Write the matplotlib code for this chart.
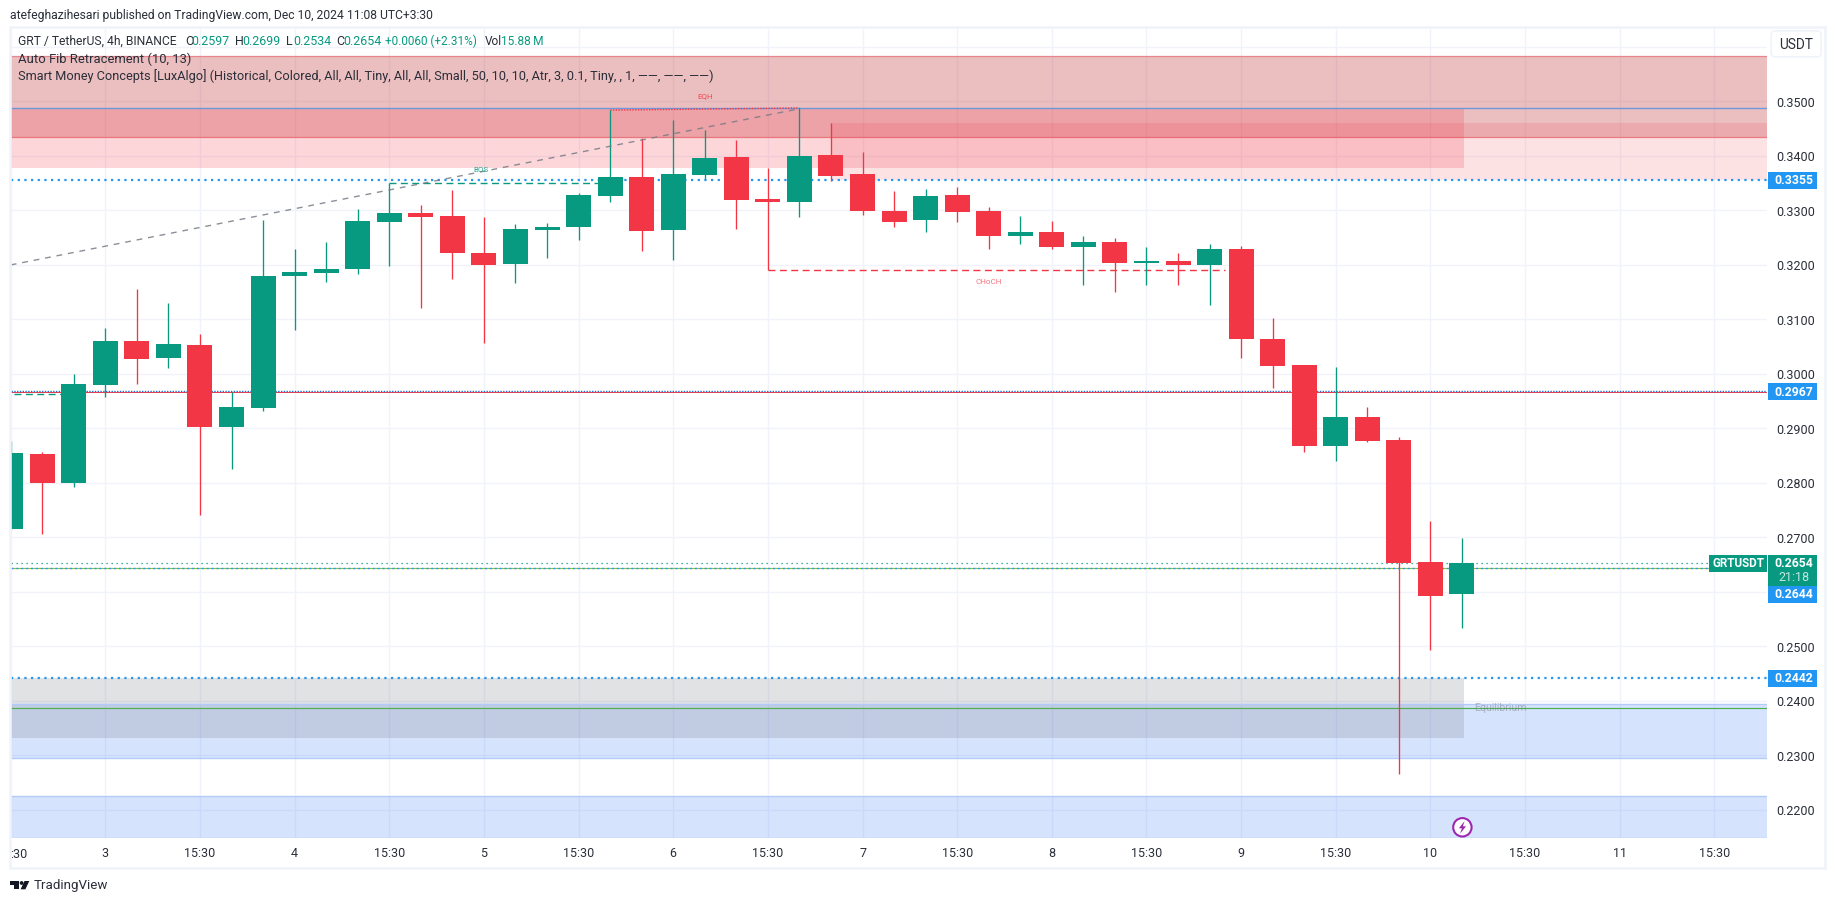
import matplotlib
matplotlib.use('Agg')
import numpy as np
import matplotlib.pyplot as plt
from matplotlib.patches import Rectangle, FancyBboxPatch, Circle, Polygon

plt.rcParams['font.family'] = ['Roboto', 'DejaVu Sans']

# 4h candles, first one is partly cut by the left edge
first_bar = -3
opens = [.2716, .2853, .2800, .2980, .3061, .3029, .3053, .2903, .2938, .3180, .3185, .3193,
         .3279, .3295, .3290, .3222, .3202, .3264, .3270, .3327, .3361, .3264, .3365, .3398,
         .3321, .3316, .3402, .3367, .3299, .3283, .3328, .3299, .3253, .3261, .3233, .3242,
         .3204, .3207, .3200, .3229, .3064, .3017, .2868, .2921, .2879, .2655, .2597]
highs = [.2877, .2857, .3000, .3084, .3156, .3130, .3073, .2967, .3283, .3229, .3242, .3303,
         .3350, .3310, .3338, .3288, .3275, .3277, .3332, .3484, .3433, .3466, .3448, .3429,
         .3378, .3488, .3461, .3407, .3336, .3339, .3343, .3306, .3290, .3281, .3253, .3250,
         .3233, .3222, .3239, .3235, .3103, .3017, .3013, .2939, .2884, .2730, .2699]
lows = [.2716, .2707, .2793, .2958, .2982, .3011, .2741, .2826, .2932, .3081, .3169, .3183,
        .3198, .3121, .3174, .3057, .3167, .3213, .3246, .3316, .3226, .3209, .3358, .3266,
        .3191, .3288, .3354, .3292, .3270, .3261, .3279, .3229, .3239, .3229, .3163, .3150,
        .3163, .3163, .3127, .3029, .2974, .2857, .2840, .2875, .2266, .2494, .2534]
closes = [.2855, .2800, .2982, .3061, .3028, .3055, .2903, .2940, .3180, .3187, .3193, .3281,
          .3295, .3288, .3222, .3200, .3266, .3270, .3328, .3361, .3262, .3367, .3396, .3319,
          .3316, .3400, .3363, .3299, .3279, .3327, .3297, .3253, .3261, .3233, .3242, .3204,
          .3207, .3200, .3229, .3064, .3015, .2868, .2921, .2877, .2653, .2593, .2654]

price_ticks = [.22, .23, .24, .25, .26, .27, .28, .29, .30, .31, .32, .33, .34, .35, .36]
price_labels = ['0.2200', '0.2300', '0.2400', '0.2500', '', '0.2700', '0.2800', '0.2900', '0.3000',
                '0.3100', '0.3200', '0.3300', '0.3400', '0.3500', '']
time_ticks = [-3, 0, 3, 6, 9, 12, 15, 18, 21, 24, 27, 30, 33, 36, 39, 42, 45, 48, 51]
time_labels = ['', '3', '15:30', '4', '15:30', '5', '15:30', '6', '15:30', '7', '15:30', '8',
               '15:30', '9', '15:30', '10', '15:30', '11', '15:30']

# price level lines
level_3355 = .3355
level_2967 = .2967
level_2644 = .2644
level_2442 = .2442
last_close = .2654
top_line = .34875
eq_line = .23866

GREEN = '#089981'
RED = '#f23645'
BLUE = '#2196f3'
GRID = '#f0f3fa'
TEXT = '#2a2e39'
ZONE_BLUE = (41 / 255, 110 / 255, 245 / 255)

W, H = 1835, 903
fig = plt.figure(figsize=((W + .1) / 100, (H + .1) / 100), dpi=100, facecolor='white')

# pane edges in pixels
left, right, top, bottom = 10.7, 1767, 27.5, 838
bar_step = 31.55
bar0_x = 105.2
px_per_price = 5450
y32 = 265

ax = fig.add_axes([left / W, 1 - bottom / H, (right - left) / W, (bottom - top) / H])
ax.set_xlim((left - bar0_x) / bar_step, (right - bar0_x) / bar_step)
ax.set_ylim(.32 - (bottom - y32) / px_per_price, .32 + (y32 - top) / px_per_price)

for s in ax.spines.values():
    s.set_visible(False)
ax.set_axisbelow(True)
ax.grid(True, color=GRID, linewidth=1.0)
ax.set_xticks(time_ticks, time_labels)
ax.set_yticks(price_ticks, price_labels)
ax.yaxis.tick_right()
ax.tick_params(axis='y', length=0, pad=6.5, labelsize=9.0, labelcolor=TEXT)
ax.tick_params(axis='x', length=0, pad=6.5, labelsize=9.0, labelcolor=TEXT)

xmin, xmax = ax.get_xlim()
bar_edge = 43.0 + 0.05   # zones of the indicator stop at the last bar

# zones
ax.axhspan(.34354, .35835, color=(190 / 255, 40 / 255, 45 / 255), alpha=.3, lw=0, zorder=1)
ax.hlines([.34354, .35835], xmin, xmax, color='#e8868d', lw=0.9, zorder=1.2)
ax.fill_between([xmin, bar_edge], .3378, top_line, color=RED, alpha=.2, lw=0, zorder=1.3)
ax.fill_between([23, xmax], level_3355, .3461, color=RED, alpha=.14, lw=0, zorder=1.4)

ax.fill_between([xmin, bar_edge], .2332, level_2442, color='#787b86', alpha=.22, lw=0, zorder=1.1)
ax.axhspan(.22949, .23945, color=ZONE_BLUE, alpha=.19, lw=0, zorder=1)
ax.axhspan(.21486, .22257, color=ZONE_BLUE, alpha=.19, lw=0, zorder=1)
ax.hlines([.22949, .23945, .21486, .22257], xmin, xmax, color='#b2cbf9', lw=1.0, zorder=1.2)

# levels
dots = (0, (1, 2))
ax.axhline(top_line, color='#6f97dc', lw=1.0, zorder=2)
ax.axhline(level_3355, color=BLUE, lw=1.6, ls=dots, zorder=2)
ax.axhline(level_2967 - .00004, color=RED, lw=0.7, zorder=2)
ax.axhline(level_2967 + .00014, color='#1f6fd0', lw=1.0, ls=(0, (1, 1)), zorder=2.1)
ax.axhline(level_2644 + .00004, color='#8bc34a', lw=0.85, zorder=2)
ax.axhline(level_2644, color=BLUE, lw=0.95, ls=(0, (1.5, 2.2)), zorder=2.1)
ax.axhline(last_close, color=GREEN, lw=0.9, ls=(0, (1, 3)), zorder=2)
ax.axhline(level_2442, color=BLUE, lw=1.6, ls=dots, zorder=2)
ax.axhline(eq_line, color='#4caf50', lw=0.85, zorder=2)

# structure lines of the indicator
ax.plot([xmin, 22], [.32, top_line - .0001], color='#787b86', lw=1.0, ls=(0, (4.2, 4.2)), alpha=.85, zorder=6)
ax.plot([9, 16], [.3350, .3350], color=GREEN, lw=1.0, ls=(0, (5, 3.2)), zorder=3)
ax.plot([xmin + .1, -1], [.29633, .29633], color=GREEN, lw=1.0, ls=(0, (5, 3.2)), zorder=3)
ax.plot([16, 22], [.3484, .3488], color=RED, lw=1.0, ls=(0, (1, 1)), zorder=3)
ax.plot([21, 35.5], [.3191, .3191], color=RED, lw=1.0, ls=(0, (5, 3.2)), zorder=3)

ax.text(11.9, .33743, 'BOS', color=GREEN, alpha=.85, fontsize=5.8, ha='center', va='center', zorder=7)
ax.text(19, .3509, 'EQH', color=RED, alpha=.85, fontsize=5.8, ha='center', va='center', zorder=7)
ax.text(28, .31694, 'CHoCH', color=RED, alpha=.7, fontsize=5.8, ha='center', va='center', zorder=7)
ax.text(43.4, .23866, 'Equilibrium', color='#787b86', alpha=.5, fontsize=7.6, ha='left', va='center', zorder=3)

# candles
bars = np.arange(first_bar, first_bar + len(opens))
o = np.array(opens)
h = np.array(highs)
l = np.array(lows)
c = np.array(closes)
colors = np.where(c >= o, GREEN, RED)
ax.vlines(bars, l, h, colors=colors, lw=0.95, zorder=5)
ax.bar(bars, np.abs(c - o), bottom=np.minimum(o, c), width=25 / bar_step, color=colors, lw=0, zorder=5.5)

# overlay in pixel coordinates for frame, header and tags
ov = fig.add_axes([0, 0, 1, 1], facecolor='none', zorder=10)
ov.set_xlim(0, W)
ov.set_ylim(H, 0)
ov.axis('off')

ov.add_patch(Rectangle((9.6, 27), 1815, 841, fill=False, ec='#f0f3fa', lw=1.9))


def put(x, y, s, color=TEXT, size=9.0, **kw):
    kw.setdefault('va', 'center')
    ov.text(x, y, s, color=color, fontsize=size, **kw)


put(10, 15, 'atefeghazihesari published on TradingView.com, Dec 10, 2024 11:08 UTC+3:30', size=8.75)
put(18, 41.7, 'GRT / TetherUS, 4h, BINANCE', size=8.7)
for x, s, col, sz in [(185, 'O', TEXT, 9), (191.5, '0.2597', GREEN, 8.9), (235, 'H', TEXT, 9), (242, '0.2699', GREEN, 8.9),
                      (286, 'L', TEXT, 9), (293, '0.2534', GREEN, 8.9), (336, 'C', TEXT, 9), (343, '0.2654', GREEN, 8.9),
                      (385, '+0.0060 (+2.31%)', GREEN, 8.5), (485, 'Vol', TEXT, 8.6), (501, '15.88\u2009M', GREEN, 8.6)]:
    put(x, 41.7, s, color=col, size=sz)
put(18, 59, 'Auto Fib Retracement (10, 13)', size=9.35)
put(18, 76.3, 'Smart Money Concepts [LuxAlgo] (Historical, Colored, All, All, Tiny, All, All, Small, '
              '50, 10, 10, Atr, 3, 0.1, Tiny, , 1, \u2014\u2014, \u2014\u2014, \u2014\u2014)', size=9.15)

# cut time label at the left edge, as the frame shows it
put(10.5, 854.4, ':30', size=9.0)

# USDT button
ov.add_patch(FancyBboxPatch((1773, 33), 46, 22, boxstyle='round,pad=2,rounding_size=4', fc='white', ec='#f0f3fa', lw=1.2))
put(1795.5, 44.5, 'USDT', size=9.8, ha='center')


def y_px(p):
    return y32 + (.32 - p) * px_per_price


def tag(y, s, color=BLUE, h_tag=17):
    ov.add_patch(Rectangle((1768, y - h_tag / 2), 48.7, h_tag, fc=color, ec='none'))
    put(1793.8, y, s, color='white', size=8.8, ha='center', fontweight='bold')


tag(y_px(level_3355), '0.3355')
tag(y_px(level_2967), '0.2967')
tag(y_px(level_2442), '0.2442')
tag(594.5, '0.2644')

# last price tag with countdown
ov.add_patch(Rectangle((1768, 555), 48.7, 31, fc=GREEN, ec='none'))
put(1793.8, 563.5, '0.2654', color='white', size=8.8, ha='center', fontweight='bold')
put(1793.8, 577.5, '21:18', color='#c4e6df', size=9.0, ha='center')
ov.add_patch(Rectangle((1709, 555), 57.7, 16.7, fc=GREEN, ec='none'))
put(1738, 563.5, 'GRTUSDT', color='white', size=8.4, ha='center', fontweight='bold')

# lightning mark
ov.add_patch(Circle((1462.3, 827.3), 9.2, fc='white', ec='#9c27b0', lw=1.5))
ov.add_patch(Polygon([(1464.5, 821), (1458.8, 828.3), (1461.8, 828.3), (1460, 833.6), (1466, 826.3),
                      (1462.8, 826.3)], closed=True, fc='#9c27b0', ec='none'))

# TradingView logo
ov.add_patch(Rectangle((10, 881), 9, 3.8, fc='#131722', ec='none'))
ov.add_patch(Rectangle((14.4, 881), 4.6, 8.3, fc='#131722', ec='none'))
ov.add_patch(Circle((21.6, 883), 1.9, fc='#131722', ec='none'))
ov.add_patch(Polygon([(24.5, 881), (29.3, 881), (25.4, 889.3), (20.6, 889.3)], closed=True, fc='#131722', ec='none'))
put(33.5, 885.5, 'TradingView', size=9.6)

fig.savefig('out.png', dpi=100)
